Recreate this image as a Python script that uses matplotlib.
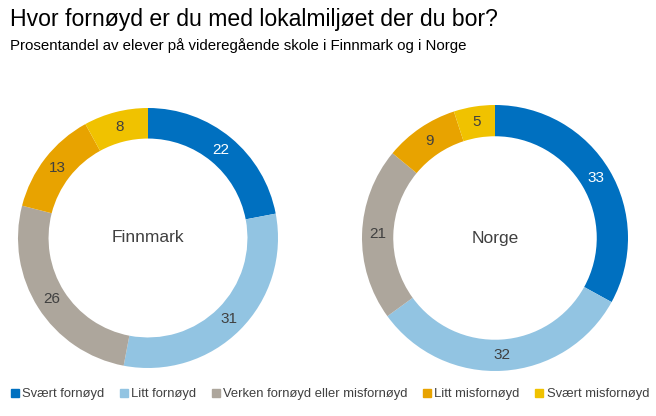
import matplotlib
matplotlib.use("Agg")
import matplotlib.pyplot as plt
from matplotlib.lines import Line2D

plt.rcParams['font.family'] = ['Liberation Sans', 'DejaVu Sans']

categories = ["Svært fornøyd", "Litt fornøyd", "Verken fornøyd eller misfornøyd",
              "Litt misfornøyd", "Svært misfornøyd"]
finnmark = [22, 31, 26, 13, 8]
norge = [33, 32, 21, 9, 5]
colors = ["#0070C0", "#92C4E2", "#ADA69C", "#E8A300", "#F0C200"]
label_colors = ["white", "#404040", "#404040", "#404040", "#404040"]

W, H = 656, 416
fig = plt.figure(figsize=(W / 100, H / 100), dpi=100)

fig.text(10 / W, 1 - 8 / H, "Hvor fornøyd er du med lokalmiljøet der du bor?",
         fontsize=16.6, va="top", ha="left", color="black")
fig.text(10 / W, 1 - 38 / H, "Prosentandel av elever på videregående skole i Finnmark og i Norge",
         fontsize=10.8, va="top", ha="left", color="black")


def donut(cx, cy, r, values, name):
    ax = fig.add_axes([(cx - r) / W, 1 - (cy + r) / H, 2 * r / W, 2 * r / H])
    wedges, texts = ax.pie(values, colors=colors, startangle=90, counterclock=False,
                           radius=1.0, labels=[str(v) for v in values],
                           labeldistance=0.88,
                           wedgeprops=dict(width=0.235, edgecolor="none", linewidth=0),
                           textprops=dict(fontsize=11, ha="center", va="center"))
    for t, c in zip(texts, label_colors):
        t.set_color(c)
        t.set_ha("center")
    ax.text(0, 0, name, ha="center", va="center", fontsize=12.5, color="#404040")
    ax.set_aspect("equal")
    ax.set_xlim(-1, 1)
    ax.set_ylim(-1, 1)
    ax.axis("off")


donut(148, 238, 130, finnmark, "Finnmark")
donut(495, 238, 133, norge, "Norge")

handles = [Line2D([0], [0], marker="s", linestyle="none", markersize=6,
                  markerfacecolor=c, markeredgecolor=c) for c in colors]
fig.legend(handles, categories, loc="center left", bbox_to_anchor=(6 / W, 1 - 394 / H),
           ncol=5, frameon=False, fontsize=9.4, handlelength=0.6, handletextpad=0.25,
           columnspacing=1.2, labelcolor="#404040", borderaxespad=0)

fig.savefig("out.png", dpi=100, facecolor="white")
